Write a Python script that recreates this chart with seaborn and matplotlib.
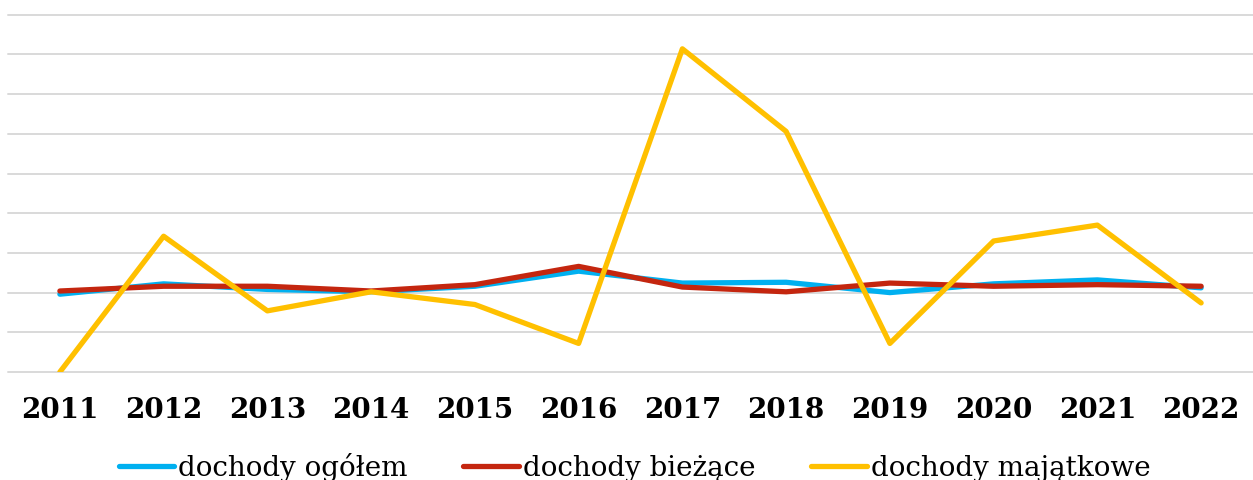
import pandas as pd
import matplotlib
matplotlib.use("Agg")
import matplotlib.pyplot as plt
import seaborn as sns

# values (index units, gridline step 0.5)
years = ["2011", "2012", "2013", "2014", "2015", "2016",
         "2017", "2018", "2019", "2020", "2021", "2022"]
ogolem = [0.98, 1.11, 1.04, 1.01, 1.08, 1.27, 1.12, 1.13, 1.00, 1.11, 1.16, 1.06]
biezace = [1.02, 1.08, 1.08, 1.02, 1.10, 1.33, 1.07, 1.01, 1.12, 1.08, 1.10, 1.08]
majatkowe = [0.00, 1.71, 0.77, 1.01, 0.85, 0.36, 4.07, 3.03, 0.36, 1.65, 1.85, 0.87]

labels = ["dochody ogółem", "dochody bieżące", "dochody majątkowe"]
colors = ["#00B0F0", "#C4260F", "#FFC000"]

df = pd.DataFrame({"rok": years * 3,
                   "wartosc": ogolem + biezace + majatkowe,
                   "seria": [labels[0]] * 12 + [labels[1]] * 12 + [labels[2]] * 12})

sns.set_style("white")
plt.rcParams["font.family"] = ["DejaVu Serif", "DejaVu Sans"]
plt.rcParams["text.color"] = "black"
plt.rcParams["xtick.color"] = "black"

fig = plt.figure(figsize=(12.53, 4.81), dpi=100)
ax = fig.add_axes([8 / 1253, (481 - 373) / 481, 1 - 8 / 1253, (373 - 15.7) / 481])

sns.lineplot(data=df, x="rok", y="wartosc", hue="seria", palette=colors,
             linewidth=3.8, sort=False, ax=ax, legend=False)
for line in ax.lines:
    line.set_solid_capstyle("round")
    line.set_solid_joinstyle("round")

ax.set_xlim(-0.5, 11.5)
ax.set_ylim(0, 4.5)
ax.set_yticks([i * 0.5 for i in range(10)])
ax.set_yticklabels([])
ax.tick_params(axis="y", length=0)
ax.tick_params(axis="x", length=0, pad=17, labelsize=20, labelcolor="black")
for t in ax.get_xticklabels():
    t.set_fontweight("bold")
ax.grid(axis="y", color="#D9D9D9", linewidth=1.4)
for g in ax.get_ygridlines():
    g.set_clip_on(False)
ax.set_axisbelow(True)
sns.despine(ax=ax, left=True, bottom=True)
ax.set_xlabel("")
ax.set_ylabel("")

handles = [plt.Line2D([], [], color=c, linewidth=3.8, solid_capstyle="round") for c in colors]
fig.legend(handles, labels, loc="center", bbox_to_anchor=(0.5 + 8 / 1253, (481 - 468) / 481),
           ncol=3, frameon=False, fontsize=20, handlelength=2.0,
           handletextpad=0.15, columnspacing=2.0, labelcolor="black")

fig.savefig("out.png", dpi=100)
